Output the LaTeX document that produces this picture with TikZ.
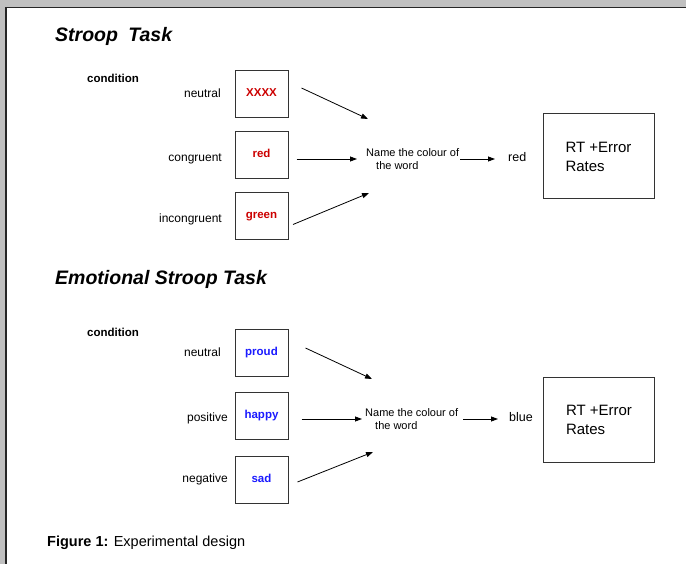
\documentclass[tikz,border=0pt]{standalone}
\usepackage{fontspec}
\setmainfont{Liberation Sans}
\usetikzlibrary{arrows.meta}
\definecolor{pagegray}{HTML}{C0C0C0}
\definecolor{wordred}{HTML}{CC0000}
\definecolor{wordblue}{HTML}{1A1AFF}
\tikzset{
	wordbox/.style={draw=black!80, line width=1pt, minimum width=53pt, minimum height=47pt, inner sep=0pt, text height=8.5pt, text depth=3.5pt, font=\fontsize{11.5}{13}\selectfont\bfseries},
	cond/.style={anchor=base east, inner sep=0pt, font=\fontsize{12}{14}\selectfont},
	task/.style={anchor=west, inner sep=1pt, align=left, font=\fontsize{11}{13}\selectfont},
	resp/.style={anchor=base west, inner sep=0pt, font=\fontsize{12.5}{15}\selectfont},
	result/.style={draw=black!80, line width=1pt, minimum width=111pt, minimum height=85pt, align=left, font=\fontsize{15}{19}\selectfont},
	tasktitle/.style={anchor=base west, inner sep=0pt, font=\fontsize{19.5}{22}\selectfont\bfseries\itshape},
	head/.style={anchor=base west, inner sep=0pt, font=\fontsize{11.5}{13}\selectfont\bfseries},
	arr/.style={-{Triangle[length=7pt,width=5pt]}, line width=0.8pt}
}
\begin{document}
\begin{tikzpicture}[x=1pt,y=-1pt]
			%%%%% PAGE %%%%%
			\useasboundingbox (0,0) rectangle (686,564);
			\clip (0,0) rectangle (686,564);
			\fill[pagegray] (0,0) rectangle (686,564);
			\draw[fill=white, draw=black!85, line width=1.3pt] (6,7.5) rectangle (700,580);
			
			%%%%% STROOP TASK %%%%%
			\node[tasktitle] (title1) at (55,41.5) {Stroop\hspace{5pt} Task};
			\node[head] (cond1) at (87,82.5) {condition};
			
			\node[wordbox, text=wordred] (b1) at (261.5,94.5) {XXXX};
			\node[wordbox, text=wordred] (b2) at (261.5,155.5) {red};
			\node[wordbox, text=wordred] (b3) at (261.5,216.5) {green};
			
			\node[cond] (c1) at (221,98) {neutral};
			\node[cond] (c2) at (222,162) {congruent};
			\node[cond] (c3) at (222,223) {incongruent};
			
			\node[task] (task1) at (365,159) {Name the colour of\\\hspace*{10pt}the word};
			\node[resp] (resp1) at (508,162) {red};
			\node[result] (rt1) at (598.5,156.5) {RT +Error\\Rates};
			
			\coordinate (in1) at (368,119);
			\coordinate (in3) at (369,193);
			\draw[arr] ([shift={(13,-6.5)}]b1.east) -- (in1);
			\draw[arr, shorten <=8pt, shorten >=8pt] (b2.east |- task1.west) -- (task1.west);
			\draw[arr] ([shift={(4.5,8)}]b3.east) -- (in3);
			\draw[arr, shorten >=13pt] (task1.east) -- (task1.east -| resp1.west);
			
			%%%%% EMOTIONAL STROOP TASK %%%%%
			\node[tasktitle] (title2) at (55,285) {Emotional Stroop Task};
			\node[head] (cond2) at (87,336.5) {condition};
			
			\node[wordbox, text=wordblue] (b4) at (261.5,353) {proud};
			\node[wordbox, text=wordblue] (b5) at (261.5,415.5) {happy};
			\node[wordbox, text=wordblue] (b6) at (261.5,480) {sad};
			
			\node[cond] (c4) at (221,356.5) {neutral};
			\node[cond] (c5) at (228,421) {positive};
			\node[cond] (c6) at (228,482) {negative};
			
			\node[task] (task2) at (364,419) {Name the colour of\\\hspace*{10pt}the word};
			\node[resp] (resp2) at (509,421) {blue};
			\node[result] (rt2) at (599,419.5) {RT +Error\\Rates};
			
			\coordinate (in4) at (372,379);
			\coordinate (in6) at (373,452);
			\draw[arr] ([shift={(17,-5)}]b4.east) -- (in4);
			\draw[arr, shorten <=13pt, shorten >=2pt] (b5.east |- task2.west) -- (task2.west);
			\draw[arr] ([shift={(9,2)}]b6.east) -- (in6);
			\draw[arr, shorten <=4pt, shorten >=11pt] (task2.east) -- (task2.east -| resp2.west);
			
			%%%%% CAPTION %%%%%
			\node[anchor=base west, inner sep=0pt, font=\fontsize{14.5}{16}\selectfont] (caption) at (47,546.5) {\textbf{Figure 1:} Experimental design};
\end{tikzpicture}
\end{document}
